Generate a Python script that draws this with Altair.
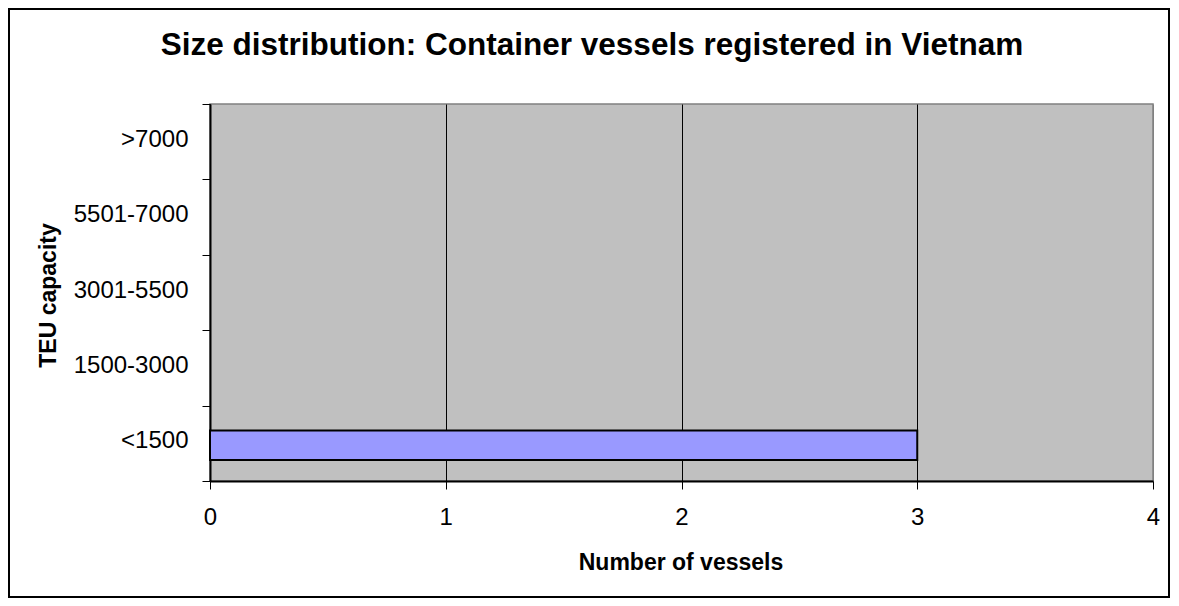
import altair as alt
import pandas as pd

categories = [">7000", "5501-7000", "3001-5500", "1500-3000", "<1500"]
vessels = [0, 0, 0, 0, 3]
x_ticks = [0, 1, 2, 3, 4]
title_text = "Size distribution: Container vessels registered in Vietnam"
x_title = "Number of vessels"
y_title = "TEU capacity"

df = pd.DataFrame({"cap": categories, "n": vessels})
FONT = "Liberation Sans"
W, H = 943, 377

x_scale = alt.Scale(domain=[0, 4], nice=False, zero=True)
y_scale = alt.Scale(domain=categories, paddingInner=0, paddingOuter=0)

bars = alt.Chart(df).transform_filter("datum.n > 0").mark_bar(
    color="#9999FF", stroke="black", strokeWidth=2, height={"band": 0.39}, yOffset=2
).encode(
    x=alt.X("n:Q", scale=x_scale, axis=alt.Axis(
        values=x_ticks, format="d", grid=True,
        gridColor=alt.condition("datum.value == 4", alt.value("#808080"), alt.value("black")),
        gridWidth=1, domainColor="black", domainWidth=2,
        tickColor="black", tickSize=8, tickWidth=1, labelFlush=False,
        labelFont=FONT, labelFontSize=24, labelColor="black", labelPadding=16,
        title=x_title, titleFont=FONT, titleFontSize=23, titleFontWeight="bold",
        titleColor="black", titleX=470.5, titleY=88, titleBaseline="alphabetic",
        titleAlign="center")),
    y=alt.Y("cap:N", scale=y_scale, sort=categories, axis=alt.Axis(
        tickBand="extent", grid=False, domainColor="black", domainWidth=2,
        tickColor="black", tickSize=8, tickWidth=1,
        labelFont=FONT, labelFontSize=24, labelColor="black", labelPadding=14,
        labelOffset=-2.5,
        title=y_title, titleFont=FONT, titleFontSize=23, titleFontWeight="bold",
        titleColor="black", titleX=-155, titleY=191, titleAngle=270,
        titleBaseline="alphabetic", titleAlign="center")),
)

border = alt.Chart(pd.DataFrame({"a": [0]})).mark_rect(
    fillOpacity=0, stroke="black", strokeWidth=2
).encode(
    x=alt.value(-201), x2=alt.value(959), y=alt.value(-95), y2=alt.value(493)
)

title = alt.Chart(pd.DataFrame({"t": [title_text]})).mark_text(
    font=FONT, fontSize=31.5, fontWeight="bold", color="black",
    align="center", baseline="alphabetic"
).encode(text="t:N", x=alt.value(382), y=alt.value(-49))

chart = alt.layer(border, bars, title).properties(
    width=W, height=H,
    padding={"left": 202, "top": 96, "right": 18, "bottom": 117},
    autosize=alt.AutoSizeParams(type="none"),
    background="white",
).configure_view(fill="#C0C0C0", stroke="#808080", strokeWidth=1.5)

chart.save("out.html", embed_options={"renderer": "svg", "actions": False})
